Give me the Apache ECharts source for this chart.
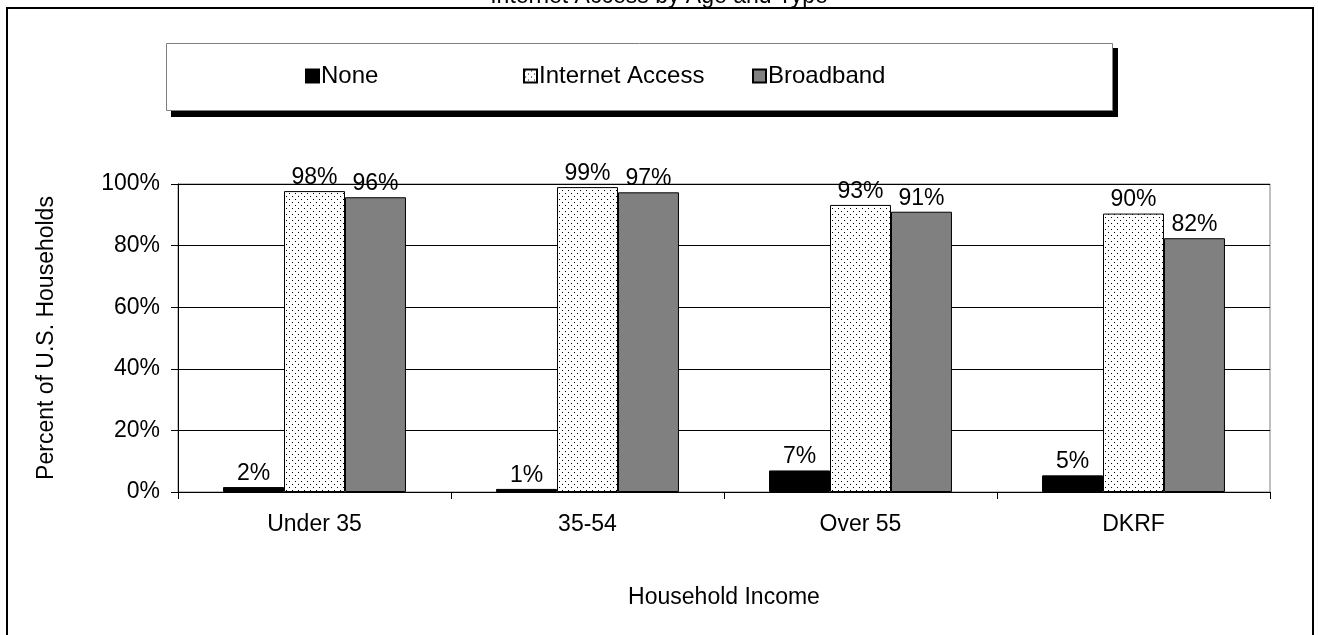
<!DOCTYPE html>
<html>
<head>
<meta charset="utf-8">
<script src="https://cdn.jsdelivr.net/npm/echarts@6/dist/echarts.min.js"></script>
<style>
html,body{margin:0;padding:0;background:#fff;}
#chart{width:1318px;height:635px;}
</style>
</head>
<body>
<div id="chart"></div>
<script>
var titleText = 'Internet Access by Age and Type';
var categories = ['Under 35', '35-54', 'Over 55', 'DKRF'];
var seriesNames = ['None', 'Internet Access', 'Broadband'];
var noneValues = [1.6, 1.0, 7.0, 5.4];
var internetValues = [97.7, 99.0, 93.2, 90.4];
var broadbandValues = [95.7, 97.3, 91.0, 82.4];
var yTicks = [0, 20, 40, 60, 80, 100];

function makeDots() {
  var c = document.createElement('canvas');
  c.width = 6; c.height = 6;
  var ctx = c.getContext('2d');
  ctx.fillStyle = '#fff';
  ctx.fillRect(0, 0, 6, 6);
  ctx.fillStyle = '#000';
  ctx.fillRect(1, 1, 1, 1);
  ctx.fillRect(4, 4, 1, 1);
  return c;
}
var dotPattern = { image: makeDots(), repeat: 'repeat' };

var font = 'Liberation Sans, Arial, sans-serif';
var FS = 23;
var chart = echarts.init(document.getElementById('chart'), null, { renderer: 'canvas' });

function lbl() {
  return {
    show: true, position: 'top', distance: 2,
    fontFamily: font, fontSize: FS, color: '#000',
    formatter: function (p) { return Math.round(p.value) + '%'; }
  };
}
function legendAt(name, x) {
  return { data: [name], left: x, top: 64, padding: 0, itemWidth: 13, itemHeight: 13, icon: 'rect', z: 10,
    textStyle: { fontFamily: font, fontSize: 24, color: '#000', padding: [0, 0, 0, -3] } };
}

var option = {
  backgroundColor: '#fff',
  animation: false,
  textStyle: { fontFamily: font },
  title: {
    text: titleText, left: 'center', top: -15, padding: 0,
    textStyle: { fontFamily: font, fontSize: FS, fontWeight: 'normal', color: '#000' }
  },
  graphic: [
    { type: 'rect', z: 0, shape: { x: 7, y: 8, width: 1306, height: 640 }, style: { fill: 'none', stroke: '#000', lineWidth: 2 } },
    { type: 'rect', z: 0, shape: { x: 171, y: 48, width: 947, height: 69 }, style: { fill: '#000' } },
    { type: 'rect', z: 1, shape: { x: 166.5, y: 43.5, width: 946, height: 67 }, style: { fill: '#fff', stroke: '#808080', lineWidth: 1 } }
  ],
  legend: [
    legendAt(seriesNames[0], 305),
    legendAt(seriesNames[1], 523),
    legendAt(seriesNames[2], 752)
  ],
  grid: { left: 178, right: 48, top: 184, bottom: 143, show: true, borderColor: '#808080', borderWidth: 1, backgroundColor: 'transparent' },
  xAxis: {
    type: 'category', data: categories,
    axisLine: { lineStyle: { color: '#000', width: 1 } },
    axisTick: { show: true, length: 7, lineStyle: { color: '#000' } },
    axisLabel: { fontFamily: font, fontSize: FS, color: '#000', margin: 21 },
    name: 'Household Income', nameLocation: 'middle', nameGap: 94,
    nameTextStyle: { fontFamily: font, fontSize: FS, color: '#000' }
  },
  yAxis: {
    type: 'value', min: yTicks[0], max: yTicks[yTicks.length - 1], interval: yTicks[1] - yTicks[0],
    axisLine: { show: true, lineStyle: { color: '#000', width: 1 } },
    axisTick: { show: true, length: 7, lineStyle: { color: '#000' } },
    axisLabel: { fontFamily: font, fontSize: FS, color: '#000', margin: 18, formatter: '{value}%' },
    splitLine: { show: true, lineStyle: { color: '#000', width: 1 } },
    name: 'Percent of U.S. Households', nameLocation: 'middle', nameGap: 120, nameRotate: 90,
    nameTextStyle: { fontFamily: font, fontSize: FS, color: '#000' }
  },
  series: [
    { name: seriesNames[0], type: 'bar', data: noneValues, barGap: '0%', barCategoryGap: '33%',
      itemStyle: { color: '#000', borderColor: '#000', borderWidth: 1 }, label: lbl() },
    { name: seriesNames[1], type: 'bar', data: internetValues, barGap: '0%', barCategoryGap: '33%',
      itemStyle: { color: dotPattern, borderColor: '#000', borderWidth: 1 }, label: lbl() },
    { name: seriesNames[2], type: 'bar', data: broadbandValues, barGap: '0%', barCategoryGap: '33%',
      itemStyle: { color: '#808080', borderColor: '#000', borderWidth: 1 }, label: lbl() }
  ]
};
chart.setOption(option);
</script>
</body>
</html>
